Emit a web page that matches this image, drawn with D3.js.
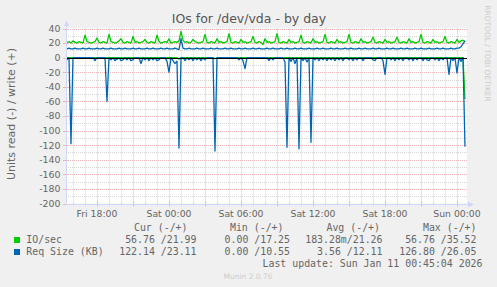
<!DOCTYPE html>
<html>
<head>
<meta charset="utf-8">
<script src="https://cdn.jsdelivr.net/npm/d3@7"></script>
<style>
body { margin: 0; background: #f0f0f0; }
svg { display: block; }
</style>
</head>
<body>
<script>
// samples every 10 minutes, first at Fri 15:30, last at Sun 00:40 (UTC so no tz games)
var start_time = '2026-01-09T15:30:00Z';
var step_minutes = 10;
var range_start = '2026-01-09T15:25:04Z';
var range_end = '2026-01-11T00:45:04Z';

// IO/sec, write (+)
var io_write = [
  21,22,20,23,21,20,22,21,20,31,22,21,20,21,22,27,21,20,22,21,
  20,32,22,21,20,21,23,26,21,20,22,21,20,29,21,22,20,21,22,25,
  21,20,22,21,20,31,22,20,21,22,21,26,20,21,22,21,23,36,24,21,
  22,20,21,25,22,21,20,21,22,32,21,20,22,21,20,26,21,22,20,21,
  22,33,21,20,22,21,20,25,21,22,20,21,22,29,21,20,22,21,18,26,
  21,22,20,21,22,33,21,20,22,21,20,25,21,22,20,21,22,31,21,20,
  22,21,20,26,21,22,20,21,22,32,21,20,22,21,20,25,21,22,20,21,
  22,32,21,20,22,21,20,26,21,22,20,21,22,28,21,20,22,21,20,25,
  21,22,20,21,22,28,21,20,22,21,20,26,21,22,20,21,22,32,21,20,
  22,21,20,25,21,22,20,21,22,29,21,20,22,21,20,25,21,23,24,22
];
// IO/sec, read (-)
var io_read = [
  0,0,0,0,0,0,0,0,0,0,0,0,0,0,0,0,0,0,0,0,
  0,0,0,0,0,0,0,0,0,0,0,0,0,0,0,0,0,0,0,0,
  0,0,0,0,0,0,0,0,0,0,0,0,0,0,0,0,2,0,0,0,
  0,0,0,0,0,0,0,0,0,0,0,0,0,0,1.5,0,0,0,0,0,
  0,0,0,0,0,0,0,0,0,0,0,0,0,0,0,0,0,0,0,0,
  0,0,0,0,0,0,0,0,0,0,0,0,0,0,0,0,0,0,0,0,
  0,0,0,0,0,0,0,0,0,0,0,0,0,0,0,0,0,0,0,0,
  0,0,0,0,0,0,0,0,0,0,0,0,0,0,0,0,0,0,0,0,
  0,0,0,0,0,0,0,0,0,0,0,0,0,0,0,0,0,0,0,0,
  0,0,0,0,0,0,0,0,0,0,0,0,0,0,0,0,0,0,0,56.76
];
// Req Size (KB), write (+)
var req_write = [
  12,13,12,12,13,12,12,12,13,12,12,13,12,12,12,13,12,12,13,12,
  12,12,13,12,12,12,13,12,12,13,12,12,12,13,12,12,13,12,12,12,
  13,12,12,13,12,12,12,13,12,12,13,12,12,12,13,12,11,26,13,12,
  12,13,12,12,12,13,12,12,13,12,12,12,13,12,12,13,12,12,12,13,
  12,12,13,12,12,12,13,12,12,13,12,12,12,13,12,12,13,12,12,12,
  13,12,12,13,12,12,12,13,12,12,13,12,12,12,13,12,12,13,12,12,
  12,13,12,12,12,13,12,12,13,12,12,12,13,12,12,13,12,12,12,13,
  12,12,13,12,12,12,13,12,12,13,12,12,12,13,12,12,13,12,12,12,
  13,12,12,13,12,12,12,13,12,12,13,12,12,12,13,12,12,13,12,12,
  12,13,12,12,12,13,12,12,13,12,12,12,13,12,12,13,13,15,19,23
];
// Req Size (KB), read (-)
var req_read = [
  3,0,118,0,0,0,0,0,0,0,0,0,0,0,4,0,0,0,0,0,
  60,0,3,0,4,2,0,4,3,0,3,0,4,3,0,0,0,8,0,3,
  0,4,0,3,0,4,3,0,0,0,5,20,0,4,8,5,124,0,0,4,
  0,3,0,4,0,3,0,4,0,3,0,0,0,0,128,0,0,0,0,0,
  0,0,0,0,0,0,3,0,4,15,0,0,0,0,0,0,0,0,0,0,
  0,4,0,3,0,0,0,0,0,6,123,0,5,0,8,0,125,0,4,0,
  6,0,116,0,3,0,4,0,3,0,4,0,3,0,4,0,3,0,4,0,
  0,3,0,4,0,3,0,0,4,0,0,0,0,3,4,0,0,0,4,23,
  0,0,3,0,4,0,3,0,4,0,0,3,0,4,0,3,0,0,4,0,
  3,4,0,0,3,0,4,0,3,0,0,23,0,4,0,21,0,5,0,122
];

var y_ticks = [40, 20, 0, -20, -40, -60, -80, -100, -120, -140, -160, -180, -200];
var x_tick_times = ['2026-01-09T18:00:00Z', '2026-01-10T00:00:00Z', '2026-01-10T06:00:00Z',
                    '2026-01-10T12:00:00Z', '2026-01-10T18:00:00Z', '2026-01-11T00:00:00Z'];
var x_tick_labels = ['Fri 18:00', 'Sat 00:00', 'Sat 06:00', 'Sat 12:00', 'Sat 18:00', 'Sun 00:00'];

var legend_names = ['IO/sec', 'Req Size (KB)'];
var legend_colors = ['#00cc00', '#0066b3'];
var legend_headers = ['Cur (-/+)', 'Min (-/+)', 'Avg (-/+)', 'Max (-/+)'];
var legend_values = [
  ['56.76 /21.99', '0.00 /17.25', '183.28m/21.26', '56.76 /35.52'],
  ['122.14 /23.11', '0.00 /10.55', '3.56 /12.11', '126.80 /26.05']
];
var last_update = 'Last update: Sun Jan 11 00:45:04 2026';

var W = 497, H = 287;
var plot_left = 66, plot_right = 466, plot_top = 28.5, plot_bottom = 203.5;
var sans = 'DejaVu Sans, sans-serif';
var mono = 'DejaVu Sans Mono, monospace';
var font_color = '#666666';
var axis_color = '#cfd6f8';
var mgrid_color = '#ecb4b4';
var grid_color = '#d6d6d6';

var svg = d3.select('body')
  .append('svg')
  .attr('width', W)
  .attr('height', H);

svg.append('rect')
  .attr('width', W)
  .attr('height', H)
  .attr('fill', '#f0f0f0');

var t0 = new Date(start_time);
function time_at(i) { return new Date(t0.getTime() + i * step_minutes * 60000); }

var x = d3.scaleUtc()
  .domain([new Date(range_start), new Date(range_end)])
  .range([plot_left, plot_right]);
var y = d3.scaleLinear()
  .domain([-200, 40])
  .range([plot_bottom, plot_top]);

function px(v) { return Math.round(v) + 0.5; }

svg.append('rect')
  .attr('x', plot_left)
  .attr('y', plot_top - 0.5)
  .attr('width', plot_right - plot_left + 1)
  .attr('height', plot_bottom - plot_top + 0.5)
  .attr('fill', '#ffffff');

// grid
var grid = svg.append('g');
var minor_y = d3.range(-190, 40, 20);
grid.selectAll('line.ymin')
  .data(minor_y)
  .join('line')
  .attr('x1', plot_left).attr('x2', plot_right + 1)
  .attr('y1', d => px(y(d))).attr('y2', d => px(y(d)))
  .attr('stroke', grid_color)
  .attr('stroke-dasharray', '1,1');

var hours = d3.utcHour.range(new Date(range_start), new Date(range_end));
grid.selectAll('line.xgrid')
  .data(hours)
  .join('line')
  .attr('x1', d => px(x(d))).attr('x2', d => px(x(d)))
  .attr('y1', plot_top).attr('y2', plot_bottom)
  .attr('stroke', d => d.getUTCHours() % 3 == 0 ? mgrid_color : grid_color)
  .attr('stroke-dasharray', '1,1');

grid.selectAll('line.ymaj')
  .data(y_ticks.filter(d => d != -200))
  .join('line')
  .attr('x1', plot_left).attr('x2', plot_right + 1)
  .attr('y1', d => px(y(d))).attr('y2', d => px(y(d)))
  .attr('stroke', mgrid_color)
  .attr('stroke-dasharray', '1,1');

// tick marks
grid.selectAll('line.xtick')
  .data(hours)
  .join('line')
  .attr('x1', d => px(x(d))).attr('x2', d => px(x(d)))
  .attr('y1', d => d.getUTCHours() % 3 == 0 ? plot_bottom - 2 : plot_bottom - 1)
  .attr('y2', d => d.getUTCHours() % 3 == 0 ? plot_bottom + 3 : plot_bottom + 2)
  .attr('stroke', d => d.getUTCHours() % 3 == 0 ? mgrid_color : grid_color);

grid.selectAll('line.ytick')
  .data(y_ticks)
  .join('line')
  .attr('x1', plot_left - 3).attr('x2', plot_left + 2)
  .attr('y1', d => px(y(d))).attr('y2', d => px(y(d)))
  .attr('stroke', mgrid_color);

// data lines
svg.append('clipPath').attr('id', 'plot')
  .append('rect')
  .attr('x', plot_left).attr('y', plot_top - 1)
  .attr('width', plot_right - plot_left + 1).attr('height', plot_bottom - plot_top + 2);

var plot = svg.append('g').attr('clip-path', 'url(#plot)');

function draw_line(values, sign, color) {
  var line = d3.line()
    .x((d, i) => x(time_at(i)))
    .y(d => y(sign * d));
  plot.append('path')
    .datum(values)
    .attr('d', line)
    .attr('fill', 'none')
    .attr('stroke', color)
    .attr('stroke-width', 1.3)
    .attr('stroke-linejoin', 'round');
}

draw_line(io_read, -1, legend_colors[0]);
draw_line(io_write, 1, legend_colors[0]);
draw_line(req_read, -1, legend_colors[1]);
draw_line(req_write, 1, legend_colors[1]);

// zero line
svg.append('line')
  .attr('x1', plot_left).attr('x2', plot_right + 1)
  .attr('y1', px(y(0))).attr('y2', px(y(0)))
  .attr('stroke', '#000000');

// axes with arrows
svg.append('line')
  .attr('x1', plot_left + 0.5).attr('x2', plot_left + 0.5)
  .attr('y1', plot_bottom).attr('y2', 24)
  .attr('stroke', axis_color);
svg.append('line')
  .attr('x1', plot_left).attr('x2', 470)
  .attr('y1', px(y(-200))).attr('y2', px(y(-200)))
  .attr('stroke', axis_color);
svg.append('path')
  .attr('d', 'M' + (plot_left - 2) + ',26L' + (plot_left + 0.5) + ',20.5L' + (plot_left + 3) + ',26Z')
  .attr('fill', axis_color);
svg.append('path')
  .attr('d', 'M468,' + (px(y(-200)) - 3) + 'L474,' + px(y(-200)) + 'L468,' + (px(y(-200)) + 3) + 'Z')
  .attr('fill', axis_color);

// tick labels
svg.selectAll('text.ylab')
  .data(y_ticks)
  .join('text')
  .attr('x', 60.5)
  .attr('y', d => y(d) + 3.4)
  .attr('text-anchor', 'end')
  .attr('font-family', sans)
  .attr('font-size', 9.4)
  .attr('fill', font_color)
  .text(d => d);

svg.selectAll('text.xlab')
  .data(x_tick_times)
  .join('text')
  .attr('x', d => x(new Date(d)))
  .attr('y', 217)
  .attr('text-anchor', 'middle')
  .attr('font-family', sans)
  .attr('font-size', 9.3)
  .attr('fill', font_color)
  .text((d, i) => x_tick_labels[i]);

// title and side texts
svg.append('text')
  .attr('x', 249)
  .attr('y', 22.5)
  .attr('text-anchor', 'middle')
  .attr('font-family', sans)
  .attr('font-size', 12.5)
  .attr('fill', '#555555')
  .text('IOs for /dev/vda - by day');

svg.append('text')
  .attr('transform', 'translate(14.5,114) rotate(-90)')
  .attr('text-anchor', 'middle')
  .attr('font-family', sans)
  .attr('font-size', 11)
  .attr('fill', font_color)
  .text('Units read (-) / write (+)');

svg.append('text')
  .attr('transform', 'translate(484.5,53.5) rotate(90)')
  .attr('text-anchor', 'middle')
  .attr('font-family', sans)
  .attr('font-size', 7.5)
  .attr('fill', '#cccccc')
  .text('RRDTOOL / TOBI OETIKER');

// legend
var header_ends = [187.5, 283.5, 380, 476.5];
var value_ends = [196.5, 290, 382.5, 476.5];
var row_y = [243, 255];

svg.selectAll('text.hdr')
  .data(legend_headers)
  .join('text')
  .attr('x', (d, i) => header_ends[i])
  .attr('y', 231)
  .attr('text-anchor', 'end')
  .attr('font-family', mono)
  .attr('font-size', 9.9)
  .attr('fill', font_color)
  .text(d => d);

legend_names.forEach(function(name, r) {
  svg.append('rect')
    .attr('x', 14).attr('y', row_y[r] - 6)
    .attr('width', 6).attr('height', 6)
    .attr('fill', legend_colors[r]);
  svg.append('text')
    .attr('x', 26.3)
    .attr('y', row_y[r])
    .attr('font-family', mono)
    .attr('font-size', 9.9)
    .attr('fill', font_color)
    .text(name);
  svg.selectAll('text.val' + r)
    .data(legend_values[r])
    .join('text')
    .attr('x', (d, i) => value_ends[i])
    .attr('y', row_y[r])
    .attr('text-anchor', 'end')
    .attr('font-family', mono)
    .attr('font-size', 9.9)
    .attr('fill', font_color)
    .text(d => d);
});

svg.append('text')
  .attr('x', 482.5)
  .attr('y', 266.5)
  .attr('text-anchor', 'end')
  .attr('font-family', mono)
  .attr('font-size', 9.9)
  .attr('fill', font_color)
  .text(last_update);

svg.append('text')
  .attr('x', 248)
  .attr('y', 279)
  .attr('text-anchor', 'middle')
  .attr('font-family', sans)
  .attr('font-size', 7.5)
  .attr('fill', '#cccccc')
  .text('Munin 2.0.76');
</script>
</body>
</html>
